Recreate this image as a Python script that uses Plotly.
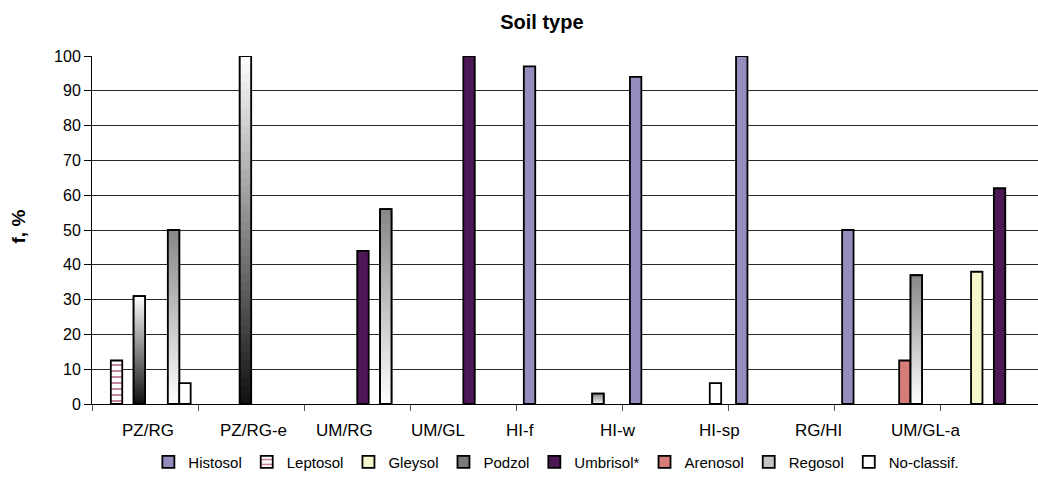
import plotly.graph_objects as go

# Soil-type frequencies (%) per site class
categories = ["PZ/RG", "PZ/RG-e", "UM/RG", "UM/GL", "HI-f", "HI-w", "HI-sp", "RG/HI", "UM/GL-a"]

histosol  = [None, None, None, None, 97, 94, 100, 50, None]
leptosol  = [12.5, None, None, None, None, None, None, None, None]
gleysol   = [None, None, None, None, None, None, None, None, 38]
podzol    = [31, 100, None, None, None, None, None, None, None]
umbrisol  = [None, None, 44, 100, None, None, None, None, 62]
arenosol  = [None, None, None, None, None, None, None, 12.5, None]
regosol   = [50, None, 56, None, 3, None, None, 37, None]
noclassif = [6, None, None, None, None, 6, None, None, None]

# horizontal placement of the category captions (in category units)
label_pos = [0.03, 1.02, 1.88, 2.76, 3.53, 4.46, 5.41, 6.35, 7.36]

FONT = "Liberation Sans, Arial, Helvetica, sans-serif"
EDGE = dict(color="black", width=1.8)
N_SEG = 40

fig = go.Figure()


def solid(name, values, color, pattern=None):
    marker = dict(color=color, line=EDGE)
    if pattern:
        marker["pattern"] = pattern
    fig.add_trace(go.Bar(x=categories, y=values, name=name, offsetgroup=name,
                         marker=marker))


def shade(c0, c1, t):
    return "rgb({},{},{})".format(*[round(a + (b - a) * t) for a, b in zip(c0, c1)])


def gradient(name, values, bottom_rgb, top_rgb, legend_color):
    # legend entry (hidden underneath the shaded slices)
    fig.add_trace(go.Bar(x=categories, y=values, name=name, offsetgroup=name,
                         marker=dict(color=legend_color, line=EDGE)))
    # vertical shading built from overlapping thin slices of each bar
    for k in range(N_SEG):
        t = (k + 0.5) / N_SEG
        base = [None if v is None else v * k / N_SEG for v in values]
        seg = [None if v is None else min(v * (k + 2) / N_SEG, v) - v * k / N_SEG
               for v in values]
        fig.add_trace(go.Bar(x=categories, y=seg, base=base, offsetgroup=name,
                             showlegend=False, hoverinfo="skip",
                             marker=dict(color=shade(bottom_rgb, top_rgb, t),
                                         line=dict(width=0))))
    # outline on top
    fig.add_trace(go.Bar(x=categories, y=values, offsetgroup=name, showlegend=False,
                         hoverinfo="skip",
                         marker=dict(color="rgba(0,0,0,0)", line=EDGE)))


solid("Histosol", histosol, "#958DBE")
solid("Leptosol", leptosol, "white",
      pattern=dict(shape="-", fgcolor="#C07898", bgcolor="white", size=6,
                   solidity=0.3, fillmode="replace"))
solid("Gleysol", gleysol, "#F6F6CC")
gradient("Podzol", podzol, (15, 15, 15), (255, 255, 255), "#7a7a7a")
solid("Umbrisol*", umbrisol, "#4E1857")
solid("Arenosol", arenosol, "#D77D78")
gradient("Regosol", regosol, (255, 255, 255), (135, 135, 135), "#c4c4c4")
solid("No-classif.", noclassif, "white")

annotations = [
    dict(x=p, y=0, xref="x", yref="paper", text=c, showarrow=False,
         yanchor="middle", yshift=-26, font=dict(size=17, color="black", family=FONT))
    for p, c in zip(label_pos, categories)
]
annotations.append(dict(x=-0.0772, y=0.51, xref="paper", yref="paper", text="<b>f, %</b>",
                        textangle=-90, showarrow=False, xanchor="center", yanchor="middle",
                        font=dict(size=19, color="black", family=FONT)))

fig.update_layout(
    width=1038, height=484,
    margin=dict(l=92, r=0, t=56, b=80),
    paper_bgcolor="white", plot_bgcolor="white",
    barmode="group", bargap=0.14, bargroupgap=0,
    font=dict(family=FONT, color="black"),
    title=dict(text="<b>Soil type</b>", x=0.522, xref="container", xanchor="center",
               y=0.955, yref="container", yanchor="middle", font=dict(size=20)),
    legend=dict(orientation="h", x=0.536, xref="container", xanchor="center",
                y=0.045, yref="container", yanchor="middle",
                font=dict(size=15), itemwidth=30, traceorder="normal"),
    annotations=annotations,
    xaxis=dict(type="category", range=[-0.5, 8.416], tickson="boundaries",
               ticks="outside", ticklen=6, tickcolor="#555", showticklabels=False,
               showline=True, linecolor="black", linewidth=1, showgrid=False),
    yaxis=dict(range=[0, 100], tick0=0, dtick=10, ticks="outside", ticklen=7,
               tickcolor="black", showline=True, linecolor="black", linewidth=1,
               showgrid=True, gridcolor="#2a2a2a", gridwidth=1, zeroline=False,
               tickfont=dict(size=16)),
    showlegend=True,
)

fig.write_html("out.html")
